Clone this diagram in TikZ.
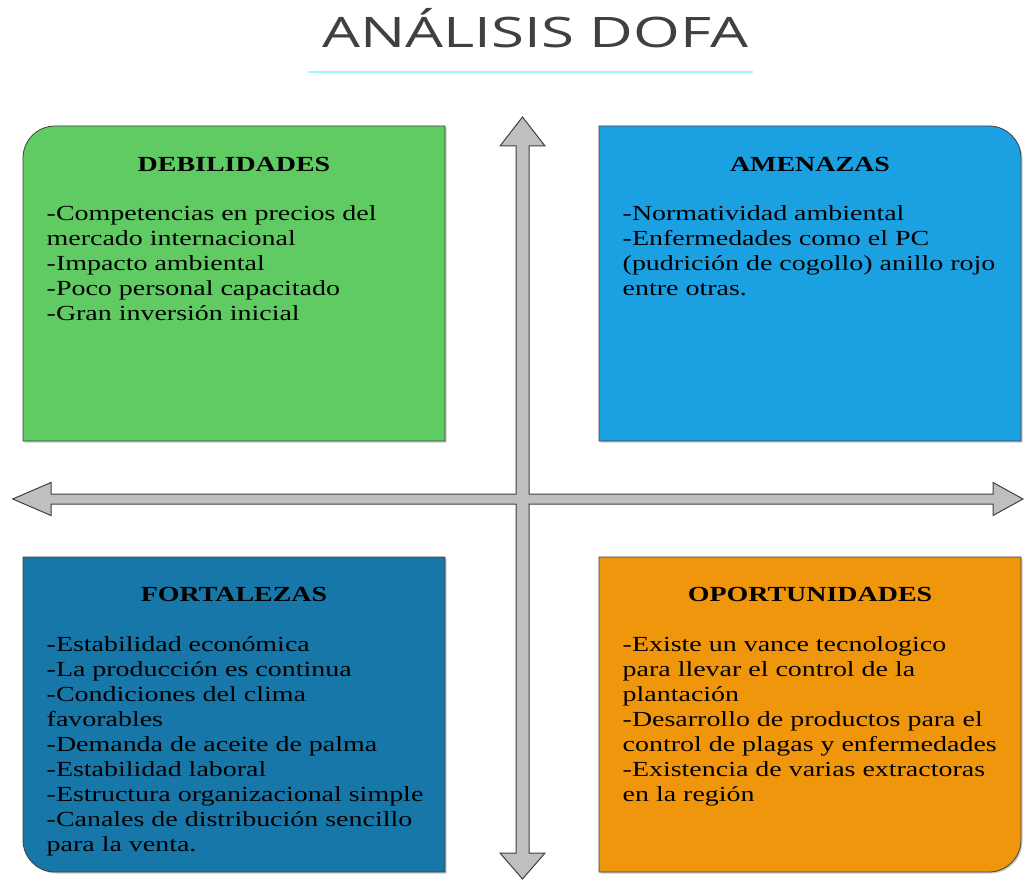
\documentclass[tikz,border=0pt]{standalone}
\usepackage{fontspec}
\newfontfamily\dofafont[FakeStretch=1.3]{Liberation Serif}
\newfontfamily\titlefont[FakeStretch=1.43]{Open Sans}
\usetikzlibrary{positioning, shadows}
\definecolor{debcol}{HTML}{5FCB62}
\definecolor{amecol}{HTML}{1BA1E2}
\definecolor{forcol}{HTML}{1677A8}
\definecolor{opocol}{HTML}{F0960C}
\definecolor{axiscol}{HTML}{BFBFBF}
\definecolor{titlecol}{HTML}{404040}
\definecolor{linecol}{HTML}{A0F6FF}
\tikzset{quad/.style={minimum width=422pt, minimum height=315pt, inner sep=0pt, outer sep=0pt},
    edge/.style={draw=black!75, line width=0.8pt, drop shadow={shadow xshift=1.5pt, shadow yshift=-1.5pt, fill=black!40}},
    head/.style={anchor=base, font=\dofafont\bfseries\fontsize{21.5}{25}\selectfont},
    body/.style={anchor=north west, inner sep=0pt, align=left, font=\dofafont\fontsize{21.5}{25}\selectfont}}

\begin{document}
\begin{tikzpicture}[x=1pt, y=1pt, node distance=154pt]
    \useasboundingbox (0,0) rectangle (1024,879);

            \node[anchor=base, text=titlecol, font=\titlefont\fontsize{42}{50}\selectfont] (title) at (535,831) {ANÁLISIS DOFA};
            \draw[linecol, line width=1.5pt] (308,807) -- (753,807);

            % the four boxes
            \node[quad] (deb) at (234,595.5) {};
            \node[quad, right=of deb] (ame) {};
            \node[quad, below=116pt of deb] (fort) {};
            \node[quad, right=of fort] (opor) {};

            \draw[edge, fill=debcol] (deb.south west) [rounded corners=32pt] -- (deb.north west) [sharp corners] -- (deb.north east) -- (deb.south east) -- cycle;
            \draw[edge, fill=amecol] (ame.north west) [rounded corners=32pt] -- (ame.north east) [sharp corners] -- (ame.south east) -- (ame.south west) -- cycle;
            \draw[edge, fill=forcol] (fort.north west) [rounded corners=32pt] -- (fort.south west) [sharp corners] -- (fort.south east) -- (fort.north east) -- cycle;
            \draw[edge, fill=opocol] (opor.north east) [rounded corners=32pt] -- (opor.south east) [sharp corners] -- (opor.south west) -- (opor.north west) -- cycle;

            % axes
            \draw[fill=axiscol, draw=black!75, line width=1pt]
                (522.5,762) -- (545,733) -- (529,733) -- (529,385) -- (993,385) -- (993,396.5) -- (1023,380)
                -- (993,363.5) -- (993,375) -- (529,375) -- (529,26) -- (545,26) -- (522.5,0) -- (500,26)
                -- (516,26) -- (516,375) -- (51,375) -- (51,363.5) -- (12.7,380) -- (51,396.5) -- (51,385)
                -- (516,385) -- (516,733) -- (500,733) -- cycle;

            \node[head] (debh) at ([yshift=-45.5pt]deb.north) {DEBILIDADES};
            \node[head] (ameh) at ([yshift=-45.5pt]ame.north) {AMENAZAS};
            \node[head] (forth) at ([yshift=-44pt]fort.north) {FORTALEZAS};
            \node[head] (oporh) at ([yshift=-44pt]opor.north) {OPORTUNIDADES};

            \node[body] (debt) at ([xshift=23.5pt, yshift=-76.5pt]deb.north west)
                {\strut-Competencias en precios del\\mercado internacional\\-Impacto ambiental\\-Poco personal capacitado\\-Gran inversión inicial};
            \node[body] (amet) at ([xshift=23.5pt, yshift=-76.5pt]ame.north west)
                {\strut-Normatividad ambiental\\-Enfermedades como el PC\\(pudrición de cogollo) anillo rojo\\entre otras.};
            \node[body] (fortt) at ([xshift=23.5pt, yshift=-77pt]fort.north west)
                {\strut-Estabilidad económica\\-La producción es continua\\-Condiciones del clima\\favorables\\-Demanda de aceite de palma\\-Estabilidad laboral\\-Estructura organizacional simple\\-Canales de distribución sencillo\\para la venta.};
            \node[body] (oport) at ([xshift=23.5pt, yshift=-77pt]opor.north west)
                {\strut-Existe un vance tecnologico\\para llevar el control de la\\plantación\\-Desarrollo de productos para el\\control de plagas y enfermedades\\-Existencia de varias extractoras\\en la región};

        \end{tikzpicture}
\end{document}
